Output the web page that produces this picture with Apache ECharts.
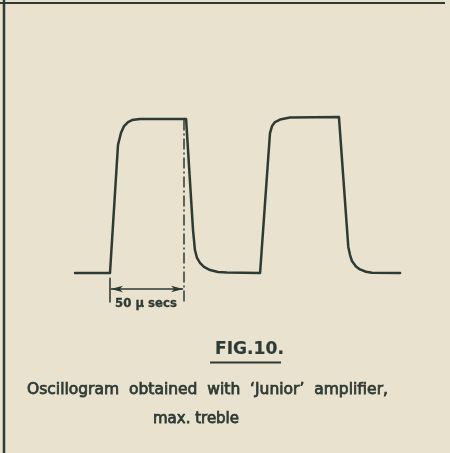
<!DOCTYPE html>
<html>
<head>
<meta charset="utf-8">
<script src="https://cdn.jsdelivr.net/npm/echarts@6/dist/echarts.min.js"></script>
<style>
  html, body { margin: 0; padding: 0; background: #e8e2ce; }
  #chart { width: 450px; height: 453px; }
</style>
</head>
<body>
<div id="chart"></div>
<script>
// Oscilloscope trace: time in microseconds, level normalised to the pulse top
const timeUs = [-23.6, 0, 5.4, 7.4, 9.5, 12.2, 14.9, 20.3, 51.4, 56.1, 57.4, 58.8, 60.8, 63.5, 67.6, 73, 79,
                101.4, 108.1, 109.5, 111.5, 114.9, 121.6, 154.7, 161, 162.2, 163.5, 166.2, 168.9, 173, 177, 196];
const level  = [0, 0, 0.826, 0.903, 0.948, 0.974, 0.987, 0.994, 0.994, 0.277, 0.148, 0.097, 0.065, 0.039, 0.019, 0.006, 0.003,
                0, 0.903, 0.948, 0.974, 0.99, 1.003, 1.006, 0.17, 0.116, 0.077, 0.042, 0.023, 0.008, 0.002, 0];

// Timing marker below the first pulse
const markerStart = 0;
const markerEnd = 50;
const markerLabel = '50 \u03bc secs';
const markerArrowLevel = -0.103;
const markerFoot = -0.19;

// Caption lines
const figTitle = 'FIG.10.';
const captionLines = ["Oscillogram  obtained  with  \u2018Junior\u2019  amplifier,", 'max. treble'];

const ink = '#2e3a34';
const family = '"DejaVu Sans", sans-serif';

// size a text so that it spans a given width
const measureCtx = document.createElement('canvas').getContext('2d');
function fitFont(text, width, weight) {
  measureCtx.font = weight + ' 20px ' + family;
  const size = 20 * width / measureCtx.measureText(text).width;
  return weight + ' ' + size.toFixed(2) + 'px ' + family;
}

const chart = echarts.init(document.getElementById('chart'), null, { renderer: 'canvas' });

const trace = timeUs.map((t, i) => [t, level[i]]);

chart.setOption({
  backgroundColor: '#e8e2ce',
  animation: false,
  grid: { left: 36, right: 44, top: 87, bottom: 118 },
  xAxis: { type: 'value', min: -50, max: 200, show: false },
  yAxis: { type: 'value', min: -0.4, max: 1.2, show: false },
  series: [{
    type: 'line',
    data: trace,
    symbol: 'none',
    clip: false,
    lineStyle: { color: ink, width: 2.5, join: 'round', cap: 'round' },
    markLine: {
      silent: true,
      symbol: 'none',
      label: { show: false },
      lineStyle: { color: ink, width: 1.6, type: 'solid' },
      data: [
        [{ coord: [markerStart, -0.03] }, { coord: [markerStart, markerFoot] }],
        [{ coord: [markerEnd, 0.99], lineStyle: { type: [11, 3, 2, 3], width: 1.5 } },
         { coord: [markerEnd, markerFoot] }],
        [{ coord: [markerStart + 0.6, markerArrowLevel], symbol: 'arrow', symbolSize: [5, 12], symbolRotate: 90 },
         { coord: [markerEnd - 0.6, markerArrowLevel], symbol: 'arrow', symbolSize: [5, 12] }]
      ]
    }
  }]
});

const labelPos = chart.convertToPixel({ gridIndex: 0 }, [markerStart, markerArrowLevel]);

function textItem(text, x, baseline, width, weight, thicken) {
  return {
    type: 'text', x: x, y: baseline,
    style: {
      text: text, fill: ink, font: fitFont(text, width, weight),
      verticalAlign: 'bottom', textBaseline: 'alphabetic',
      stroke: ink, lineWidth: thicken
    }
  };
}

chart.setOption({
  graphic: [
    // page frame rules
    { type: 'line', shape: { x1: 0, y1: 3, x2: 445, y2: 3 }, style: { stroke: ink, lineWidth: 2 } },
    { type: 'line', shape: { x1: 4, y1: 0, x2: 4, y2: 453 }, style: { stroke: ink, lineWidth: 2.5 } },
    textItem(markerLabel, labelPos[0] + 5, 310, 62, 'bold', 0.3),
    textItem(figTitle, 215, 358, 69, 'bold', 0.2),
    { type: 'line', shape: { x1: 210, y1: 362.5, x2: 281, y2: 362.5 }, style: { stroke: ink, lineWidth: 2 } },
    textItem(captionLines[0], 27, 398, 361, 'normal', 0.75),
    textItem(captionLines[1], 153, 427, 86, 'normal', 0.75)
  ]
});
</script>
</body>
</html>
